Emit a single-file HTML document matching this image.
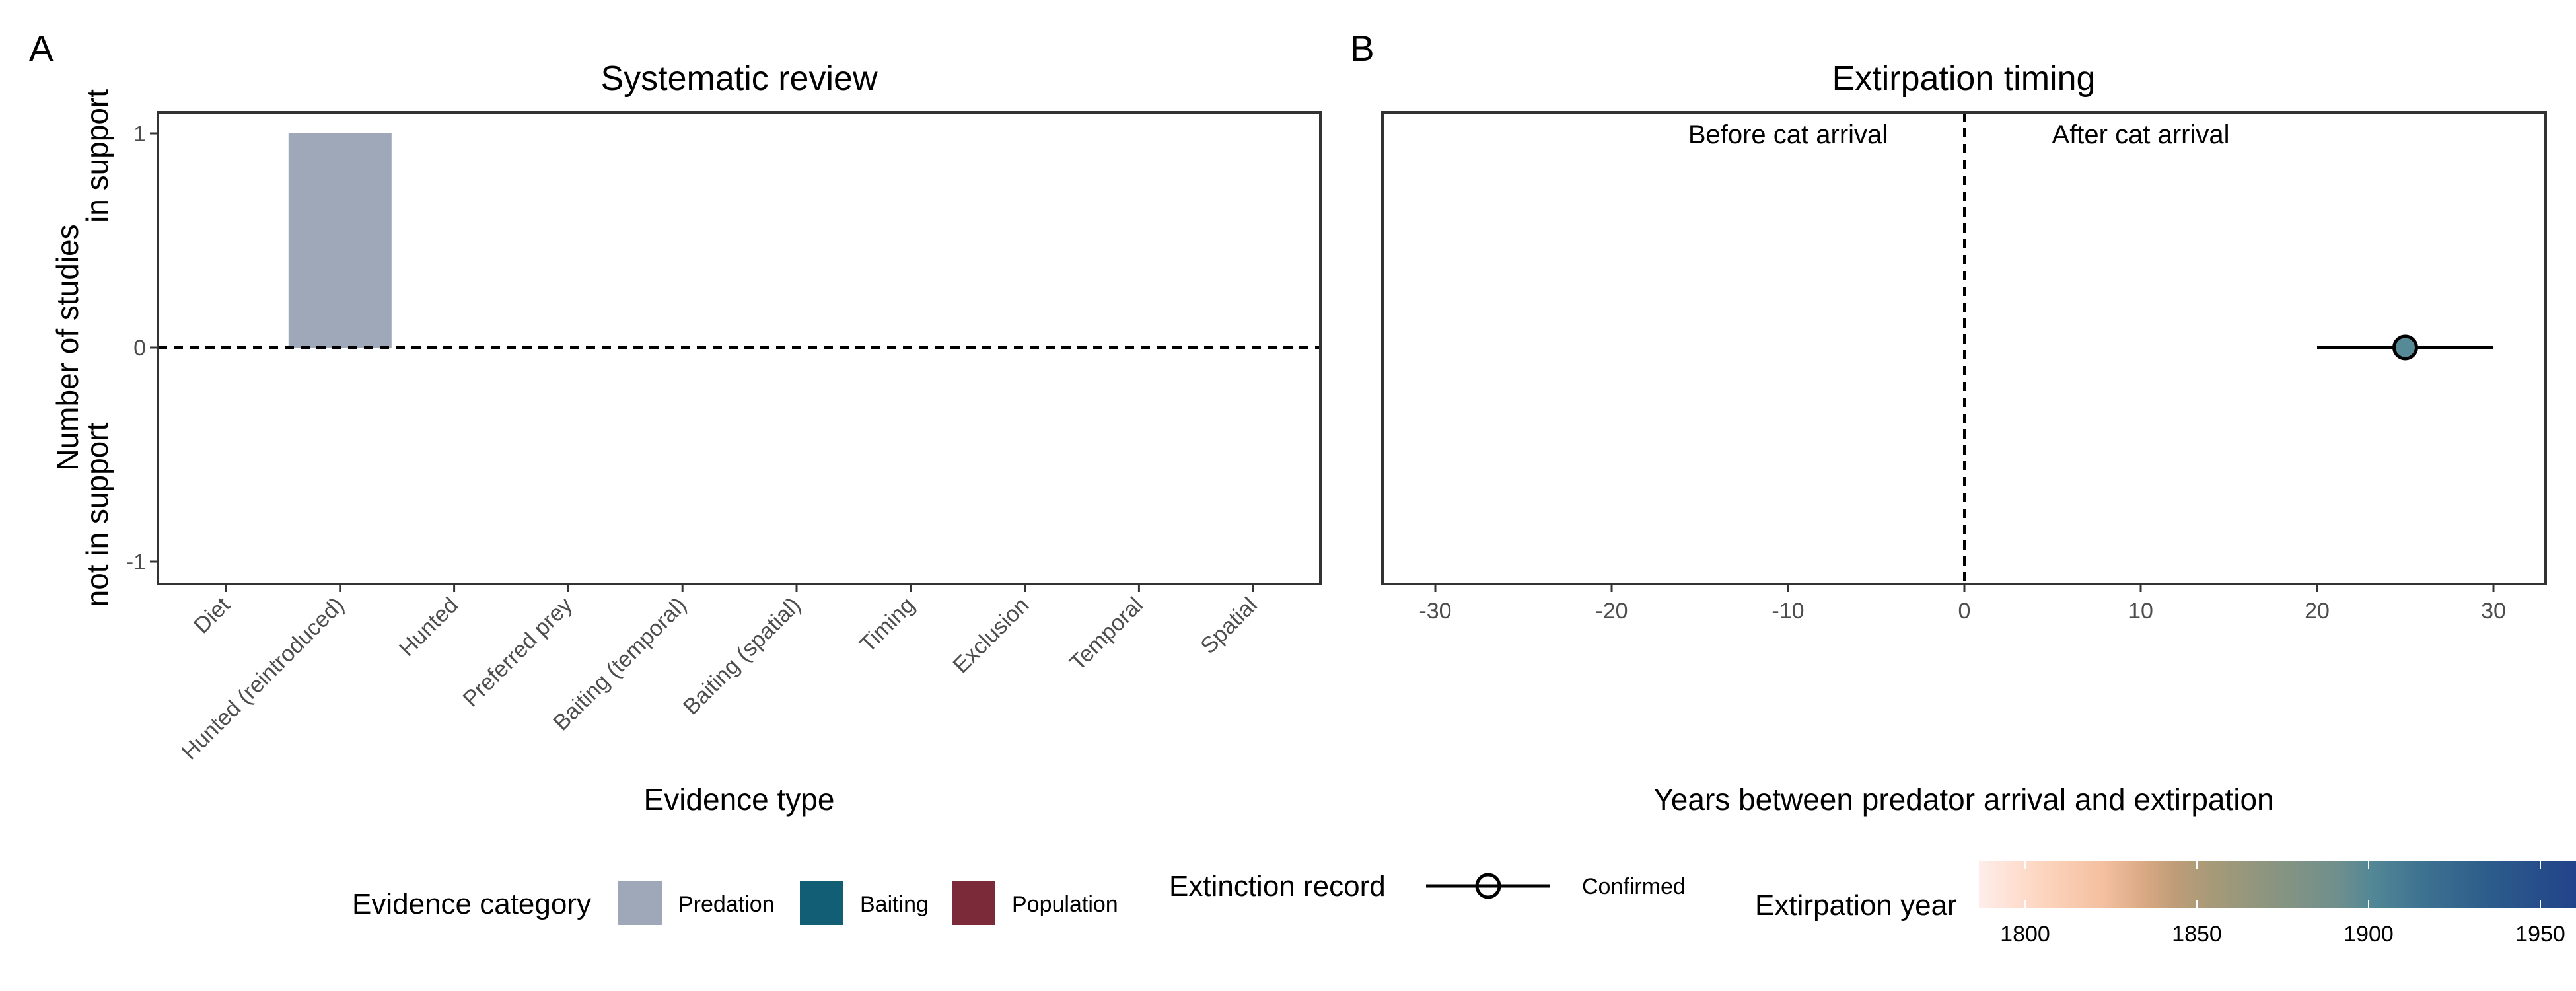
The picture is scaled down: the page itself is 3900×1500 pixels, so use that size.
<!DOCTYPE html>
<html><head><meta charset="utf-8"><style>
html,body{margin:0;padding:0;background:#fff;}
svg{display:block;font-family:"Liberation Sans",Arial,sans-serif;}
</style></head><body>
<svg id="chart" width="3900" height="1500" viewBox="0 0 3900 1500" xmlns="http://www.w3.org/2000/svg">
<defs>
<linearGradient id="yeargrad" x1="0" x2="1" y1="0" y2="0">
<stop offset="0" stop-color="#FEEDEA"/>
<stop offset="0.106" stop-color="#FDD5BF"/>
<stop offset="0.21" stop-color="#F3BF9F"/>
<stop offset="0.28" stop-color="#D8A882"/>
<stop offset="0.33" stop-color="#BE9C78"/>
<stop offset="0.39" stop-color="#A69A78"/>
<stop offset="0.49" stop-color="#8A9580"/>
<stop offset="0.6" stop-color="#6F8F8C"/>
<stop offset="0.66" stop-color="#528796"/>
<stop offset="0.74" stop-color="#3E7391"/>
<stop offset="0.85" stop-color="#2D5D8B"/>
<stop offset="1" stop-color="#22438A"/>
</linearGradient>
</defs>
<text x="44" y="92" font-size="55" fill="#000">A</text>
<text x="2044" y="92" font-size="55" fill="#000">B</text>
<text x="1119" y="136" font-size="52" text-anchor="middle">Systematic review</text>
<text x="2973" y="136" font-size="52" text-anchor="middle">Extirpation timing</text>
<g id="panelA"></g>
<g id="panelB"></g>
<g id="legend">
<text x="533" y="1383" font-size="44">Evidence category</text>
<rect x="936" y="1334" width="66" height="66" fill="#9FA8B8"/>
<text x="1027" y="1380" font-size="34">Predation</text>
<rect x="1211" y="1334" width="66" height="66" fill="#125F75"/>
<text x="1302" y="1380" font-size="34">Baiting</text>
<rect x="1441" y="1334" width="66" height="66" fill="#7B2A39"/>
<text x="1532" y="1380" font-size="34">Population</text>
<text x="1770" y="1356" font-size="44">Extinction record</text>
<line x1="2159" y1="1341" x2="2347" y2="1341" stroke="#000" stroke-width="5"/>
<circle cx="2253" cy="1341" r="17" fill="none" stroke="#000" stroke-width="5"/>
<text x="2395" y="1353" font-size="34">Confirmed</text>
<text x="2657" y="1385" font-size="44">Extirpation year</text>
<rect x="2996" y="1303" width="904" height="72" fill="url(#yeargrad)"/>
<g id="cbticks"></g>
</g>
</svg>
<script>
const NS="http://www.w3.org/2000/svg";
// ---------- Panel A data ----------
const categories=["Diet","Hunted (reintroduced)","Hunted","Preferred prey","Baiting (temporal)","Baiting (spatial)","Timing","Exclusion","Temporal","Spatial"];
const supportCounts=[0,1,0,0,0,0,0,0,0,0];
const notSupportCounts=[0,0,0,0,0,0,0,0,0,0];
const barCategoryColors=["#9FA8B8","#9FA8B8","#9FA8B8","#9FA8B8","#125F75","#125F75","#7B2A39","#7B2A39","#7B2A39","#7B2A39"];
const yTicksA=[-1,0,1];
// ---------- Panel B data ----------
const timingMid=[25];
const timingLow=[20];
const timingHigh=[30];
const timingRowY=[0];
const xTicksB=[-30,-20,-10,0,10,20,30];
// ---------- Colorbar ----------
const cbTicks=[1800,1850,1900,1950];

function mk(tag,attrs,parent,txt){const e=document.createElementNS(NS,tag);for(const k in attrs)e.setAttribute(k,attrs[k]);if(txt!==undefined)e.textContent=txt;parent.appendChild(e);return e;}

// Panel A
const A={l:239,r:1999,t:170,b:884};
const ax=i=>342+i*172.8;
const ay=v=>526-v*324;
const gA=document.getElementById('panelA');
for(let i=0;i<categories.length;i++){
  const w=156;
  if(supportCounts[i]>0){
    const r=mk('rect',{x:ax(i)-w/2,y:ay(supportCounts[i]),width:w,height:ay(0)-ay(supportCounts[i]),fill:barCategoryColors[i]},gA);
    
    
  }
  if(notSupportCounts[i]>0){
    const r=mk('rect',{x:ax(i)-w/2,y:ay(0),width:w,height:ay(-notSupportCounts[i])-ay(0),fill:barCategoryColors[i]},gA);
    
    
  }
  const t=mk('line',{x1:ax(i),x2:ax(i),y1:A.b,y2:A.b+12,stroke:'#333','stroke-width':3},gA);
  
  
  const lx=ax(i)+8,ly=A.b+34;
  const lab=mk('text',{x:lx,y:ly,'font-size':34,fill:'#4d4d4d','text-anchor':'end',transform:`rotate(-45 ${lx} ${ly})`},gA,categories[i]);
  
  
}
const zl=mk('line',{x1:A.l,x2:A.r,y1:ay(0),y2:ay(0),stroke:'#000','stroke-width':4,'stroke-dasharray':'14 10'},gA);


yTicksA.forEach(v=>{
  const t=mk('line',{x1:A.l-12,x2:A.l,y1:ay(v),y2:ay(v),stroke:'#333','stroke-width':3},gA);
  
  
  const l=mk('text',{x:A.l-18,y:ay(v)+12,'font-size':34,fill:'#4d4d4d','text-anchor':'end'},gA,String(v));
  
  
});
const fa=mk('rect',{x:A.l,y:A.t,width:A.r-A.l,height:A.b-A.t,fill:'none',stroke:'#333','stroke-width':4},gA);


const yt1=mk('text',{x:118,y:526,'font-size':46,'text-anchor':'middle',transform:'rotate(-90 118 526)'},gA,'Number of studies');


const yt2=mk('text',{x:163,y:779,'font-size':46,'text-anchor':'middle',transform:'rotate(-90 163 779)'},gA,'not in support');


const yt3=mk('text',{x:163,y:236,'font-size':46,'text-anchor':'middle',transform:'rotate(-90 163 236)'},gA,'in support');


const xa=mk('text',{x:1119,y:1226,'font-size':46,'text-anchor':'middle'},gA,'Evidence type');



// Panel B
const B={l:2093,r:3854,t:170,b:884};
const bx=v=>2974+v*26.7;
const by=v=>526+v*324;
const gB=document.getElementById('panelB');
const vl=mk('line',{x1:bx(0),x2:bx(0),y1:B.t,y2:B.b,stroke:'#000','stroke-width':4,'stroke-dasharray':'14 10'},gB);


const bt=mk('text',{x:bx(-10),y:217,'font-size':40,'text-anchor':'middle'},gB,'Before cat arrival');


const at=mk('text',{x:bx(10),y:217,'font-size':40,'text-anchor':'middle'},gB,'After cat arrival');


for(let i=0;i<timingMid.length;i++){
  const e=mk('line',{x1:bx(timingLow[i]),x2:bx(timingHigh[i]),y1:by(timingRowY[i]),y2:by(timingRowY[i]),stroke:'#000','stroke-width':5},gB);
  
  
  const p=mk('circle',{cx:bx(timingMid[i]),cy:by(timingRowY[i]),r:17,fill:'#568A96',stroke:'#000','stroke-width':5},gB);
  
  
}
xTicksB.forEach(v=>{
  const t=mk('line',{x1:bx(v),x2:bx(v),y1:B.b,y2:B.b+12,stroke:'#333','stroke-width':3},gB);
  
  
  const l=mk('text',{x:bx(v),y:B.b+52,'font-size':34,fill:'#4d4d4d','text-anchor':'middle'},gB,String(v));
  
  
});
const fb=mk('rect',{x:B.l,y:B.t,width:B.r-B.l,height:B.b-B.t,fill:'none',stroke:'#333','stroke-width':4},gB);


const xb=mk('text',{x:2973,y:1226,'font-size':46,'text-anchor':'middle'},gB,'Years between predator arrival and extirpation');



// Colorbar ticks
const cx=v=>3066+(v-1800)*5.2;
const gC=document.getElementById('cbticks');
cbTicks.forEach(v=>{
  mk('line',{x1:cx(v),x2:cx(v),y1:1303,y2:1316,stroke:'#fff','stroke-width':2},gC);
  mk('line',{x1:cx(v),x2:cx(v),y1:1362,y2:1375,stroke:'#fff','stroke-width':2},gC);
  const l=mk('text',{x:cx(v),y:1425,'font-size':34,'text-anchor':'middle'},gC,String(v));
  
  
});
</script>
</body></html>
